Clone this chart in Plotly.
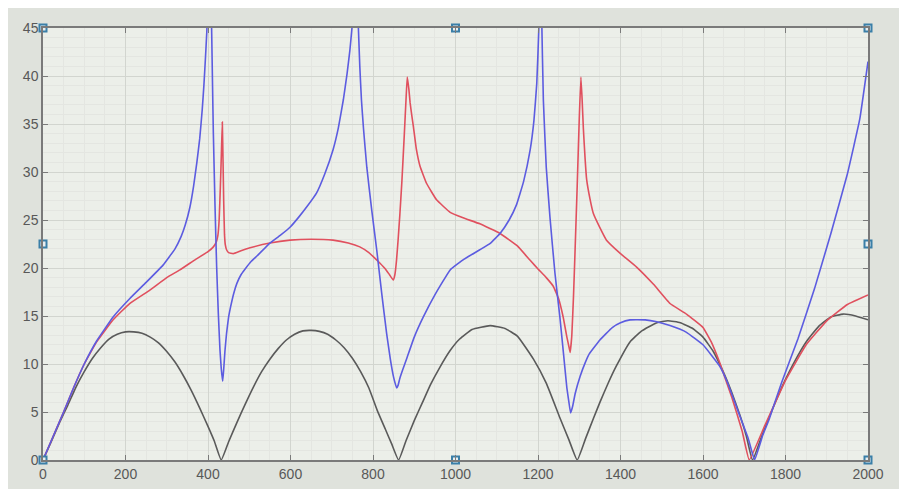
import plotly.graph_objects as go

# ---- data ----
black_x = [0, 20, 40, 60, 80, 100, 120, 140, 160, 180, 200, 220, 240, 260, 280, 300, 320, 340, 360, 380, 400, 415, 432,
           450, 470, 490, 510, 530, 550, 570, 590, 610, 630, 650, 670, 690, 710, 730, 750, 770, 790, 810, 830, 845, 862,
           880, 900, 920, 940, 960, 987, 1010, 1040, 1084, 1120, 1150, 1189, 1220, 1253, 1275, 1295,
           1315, 1335, 1350, 1370, 1390, 1423, 1450, 1488, 1515, 1545, 1575, 1600, 1625, 1650, 1670, 1690, 1705, 1720,
           1740, 1760, 1780, 1800, 1820, 1850, 1880, 1910, 1940, 1970, 2000]
black_y = [0, 1.9, 3.9, 5.7, 7.6, 9.2, 10.6, 11.7, 12.6, 13.1, 13.35, 13.35, 13.2, 12.8, 12.2, 11.3, 10.2, 8.8, 7.2, 5.4, 3.5, 2.0, 0,
           1.9, 3.9, 5.8, 7.6, 9.2, 10.5, 11.6, 12.5, 13.1, 13.45, 13.5, 13.4, 13.1, 12.5, 11.7, 10.6, 9.2, 7.5, 5.2, 3.2, 1.7, 0,
           2.0, 4.1, 6.0, 7.9, 9.5, 11.4, 12.6, 13.6, 14.0, 13.7, 12.9, 10.5, 8.0, 4.4, 2.1, 0,
           2.2, 4.4, 6.0, 8.0, 9.8, 12.3, 13.4, 14.3, 14.5, 14.3, 13.7, 12.8, 11.3, 9.1, 7.0, 4.6, 2.5, 0,
           2.2, 4.4, 6.5, 8.4, 10.1, 12.3, 13.9, 14.9, 15.2, 15.0, 14.6]

blue_x = [0, 25, 50, 75, 100, 130, 170, 210, 250, 291, 320, 335, 345, 356, 365, 373, 380, 386, 390, 394, 397, 400, 402,
          404, 407, 409, 411, 413, 417, 421, 425, 429, 432, 435.6, 438, 441, 445, 450, 455, 462, 470, 480, 490, 505, 520,
          550, 575, 600, 620, 640, 663, 683, 703, 716, 728, 737, 744, 749, 752, 757,
          762, 765, 768, 772, 777, 785, 797, 809, 821, 833, 842, 850, 855, 857.5, 861, 865, 872, 882, 900, 922, 950,
          987, 1020, 1059, 1085, 1108, 1130, 1148, 1165, 1181, 1190, 1197, 1202, 1205,
          1209, 1213, 1220, 1229, 1241, 1253, 1262, 1270, 1275, 1279, 1284, 1290, 1302, 1315, 1325, 1350, 1380, 1400, 1423,
          1460, 1488, 1520, 1560, 1600, 1640, 1660, 1690, 1710, 1725,
          1745, 1760, 1790, 1830, 1870, 1910, 1950, 1980, 2000]
blue_y = [0, 2.5, 5.0, 7.6, 10.0, 12.4, 14.9, 16.8, 18.5, 20.3, 22.0, 23.3, 24.5, 26.3, 28.5, 31.0, 33.5, 36.5, 39.0, 42.0, 44.5, 48, 60,
          55, 49, 44.4, 39, 34.0, 26.5, 20.1, 15.3, 11.5, 9.6, 8.2, 9.4, 11.3, 13.2, 14.9, 16.0, 17.3, 18.4, 19.3, 19.9, 20.7, 21.3,
          22.6, 23.4, 24.3, 25.3, 26.4, 27.8, 29.8, 32.3, 34.6, 37.5, 40.2, 42.7, 45, 48, 60,
          48, 44.5, 41.0, 37.5, 34.5, 30.5, 26.0, 21.9, 17.4, 13.2, 10.5, 8.6, 7.8, 7.5, 7.8, 8.5, 9.4, 10.6, 12.8, 14.9, 17.2,
          19.8, 20.9, 21.9, 22.6, 23.6, 25.0, 26.6, 29.0, 32.3, 35.3, 39.2, 45, 60,
          46, 37.5, 30.5, 25.3, 19.5, 14.9, 11.0, 7.5, 6.0, 4.9, 5.6, 6.9, 8.7, 10.2, 11.1, 12.5, 13.8, 14.3, 14.6,
          14.6, 14.4, 14.0, 13.3, 12.0, 9.8, 8.0, 4.5, 2.2, 0,
          2.6, 4.2, 8.0, 12.6, 17.8, 23.6, 29.8, 35.5, 41.5]

red_x = [0, 25, 50, 75, 100, 130, 170, 210, 259, 300, 332, 370, 400, 413, 420, 424, 427, 430, 432.5, 434.7,
         436.5, 438, 440, 442, 445, 450, 461, 480, 502, 550, 599, 650, 703, 740, 768, 790, 805, 817, 830, 840, 849,
         853, 857, 861, 865, 870, 876, 880, 883, 887, 890, 894, 898, 905, 914, 930, 954, 987, 1020, 1059, 1108, 1150,
         1181, 1200, 1220, 1237, 1250, 1261, 1270, 1275, 1278, 1282, 1286, 1290, 1295, 1300, 1304, 1307, 1310, 1314,
         1318, 1326, 1334, 1350, 1366, 1400, 1439, 1480, 1520, 1560,
         1600, 1620, 1640, 1670, 1695, 1712, 1750, 1800, 1850, 1900, 1950, 2000]
red_y = [0, 2.5, 5.0, 7.6, 10.0, 12.3, 14.6, 16.3, 17.7, 19.0, 19.8, 20.9, 21.7, 22.2, 22.7, 23.4, 25.0, 28.5, 32.0, 35.2,
         31.0, 27.0, 23.5, 22.4, 21.9, 21.6, 21.5, 21.8, 22.1, 22.6, 22.9, 23.0, 22.9, 22.6, 22.2, 21.6, 21.0, 20.5, 19.9, 19.3, 18.75,
         19.3, 20.8, 23.0, 25.5, 29.0, 34.0, 37.5, 39.9, 38.6, 37.2, 35.9, 34.7, 32.4, 30.6, 28.8, 27.1, 25.8, 25.2, 24.6, 23.6, 22.3,
         20.8, 19.9, 19.0, 18.1, 16.8, 14.9, 12.8, 11.8, 11.2, 13.0, 17.0, 22.0, 28.5, 35.5, 39.9, 37.5, 34.5, 31.5,
         29.2, 27.2, 25.7, 24.2, 22.9, 21.5, 20.1, 18.3, 16.3, 15.2,
         13.8, 12.3, 10.2, 6.5, 3.0, 0, 3.6, 8.3, 12.0, 14.5, 16.2, 17.2]

x_ticks = [0, 200, 400, 600, 800, 1000, 1200, 1400, 1600, 1800, 2000]
y_ticks = [0, 5, 10, 15, 20, 25, 30, 35, 40, 45]
handle_x = [0, 0, 0, 1000, 2000, 2000, 2000, 1000]
handle_y = [0, 22.5, 45, 45, 45, 22.5, 0, 0]

fig = go.Figure()
fig.add_trace(go.Scatter(x=black_x, y=black_y, mode="lines",
                         line=dict(color="#5a5a5a", width=1.6, shape="spline", smoothing=0.4)))
fig.add_trace(go.Scatter(x=red_x, y=red_y, mode="lines",
                         line=dict(color="#e0505e", width=1.6, shape="spline", smoothing=0.3)))
fig.add_trace(go.Scatter(x=blue_x, y=blue_y, mode="lines",
                         line=dict(color="#5c5ce0", width=1.6, shape="spline", smoothing=0.3)))
fig.add_trace(go.Scatter(x=handle_x, y=handle_y, mode="markers", cliponaxis=False,
                         marker=dict(symbol="square", size=7, color="#e8eef0",
                                     line=dict(color="#3a7fa8", width=2))))

axis_common = dict(showline=True, linecolor="#7a7a7a", linewidth=1.5, mirror="ticks",
                   ticks="inside", ticklen=5, tickcolor="#7a7a7a",
                   showgrid=True, gridcolor="#d2d5cf", gridwidth=1, zeroline=False,
                   tickfont=dict(family="Liberation Sans, Arial", size=14, color="#585858"))

fig.update_xaxes(range=[0, 2000], tickvals=x_ticks, ticktext=[str(v) for v in x_ticks],
                 minor=dict(dtick=50, showgrid=True, gridcolor="#e4e6e1", ticks=""),
                 **axis_common)
fig.update_yaxes(range=[0, 45], tickvals=y_ticks, ticktext=[str(v) for v in y_ticks],
                 minor=dict(dtick=1, showgrid=True, gridcolor="#e4e6e1", ticks=""),
                 **axis_common)

fig.update_layout(
    width=907, height=489,
    margin=dict(l=35, r=47, t=20, b=37),
    paper_bgcolor="#dfe2dc",
    plot_bgcolor="#ecefe9",
    showlegend=False,
)

fig.write_html("out.html")
